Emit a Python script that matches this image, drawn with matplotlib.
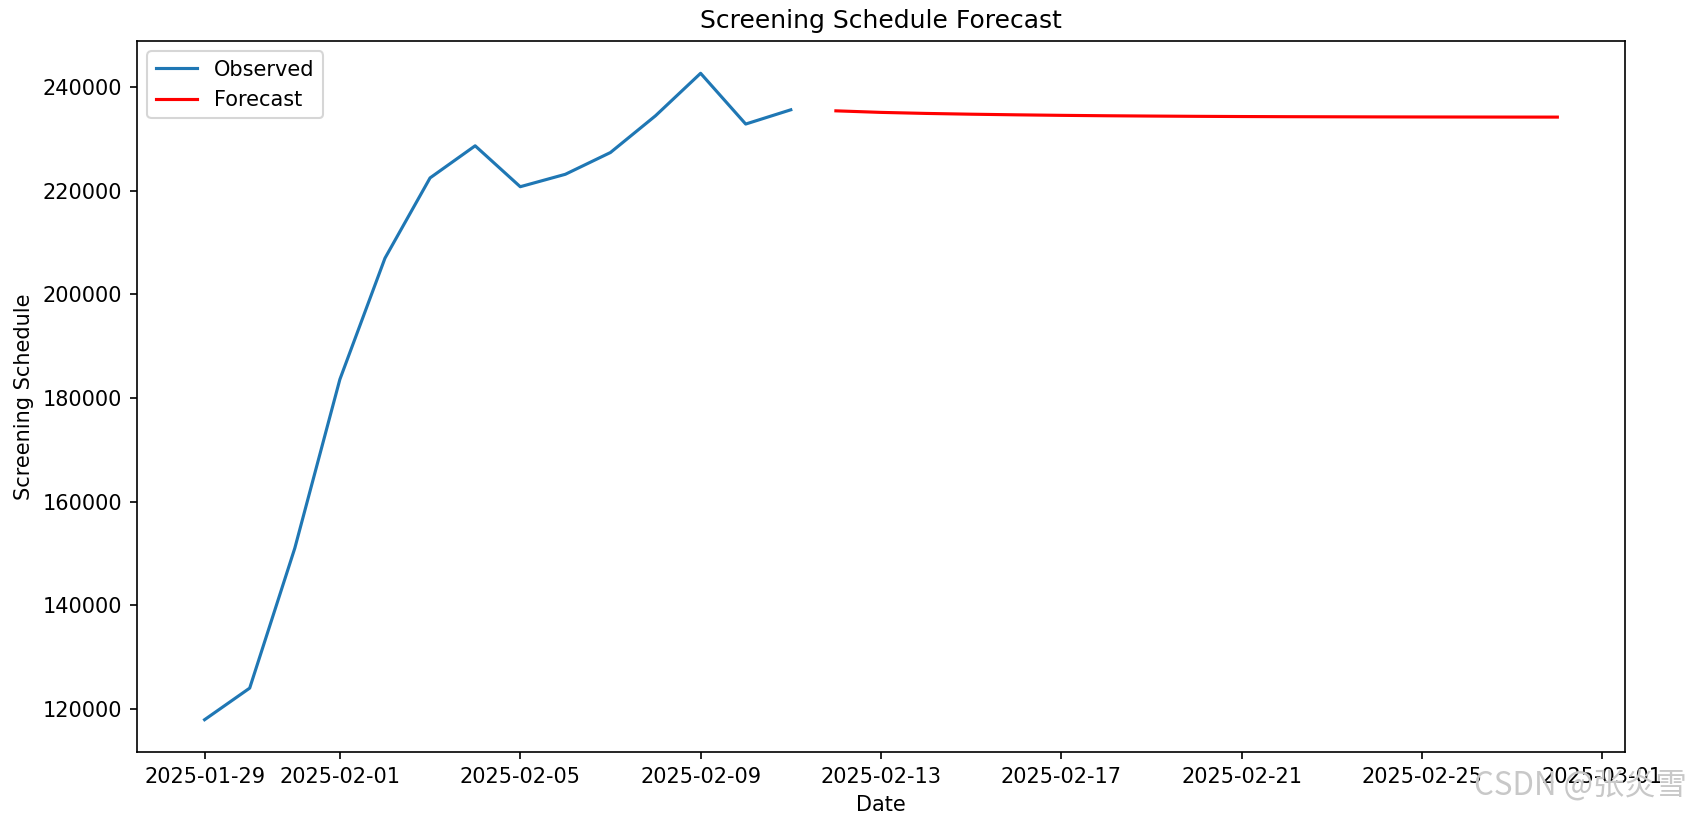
import pandas as pd
import matplotlib
matplotlib.use("Agg")
import matplotlib.pyplot as plt

obs_dates = pd.date_range("2025-01-29", "2025-02-11", freq="D")
obs_values = [117900, 124000, 151000, 183600, 207000, 222500, 228700,
              220800, 223200, 227400, 234500, 242700, 232900, 235650]

# forecast
fc_dates = pd.date_range("2025-02-12", "2025-02-28", freq="D")
fc_values = [235450, 235150, 234950, 234800, 234680, 234580, 234500, 234440,
             234390, 234350, 234320, 234300, 234280, 234265, 234255, 234245,
             234240]

fig = plt.figure(figsize=(11.3, 5.44), dpi=150)
ax = fig.add_axes([0.0808, 0.0784, 0.8779, 0.8714])

ax.plot(obs_dates, obs_values, label="Observed")
ax.plot(fc_dates, fc_values, color="red", label="Forecast")

ax.set_title("Screening Schedule Forecast")
ax.set_xlabel("Date")
ax.set_ylabel("Screening Schedule")
ax.legend(loc="upper left")

# watermark
fig.text(1474 / 1695, 1 - 795 / 816, "CSDN @张炎雪", color="#c8c8c8",
         fontsize=15, family=["Noto Sans CJK SC", "DejaVu Sans"],
         va="baseline", ha="left")

fig.savefig("out.png", dpi=150)
